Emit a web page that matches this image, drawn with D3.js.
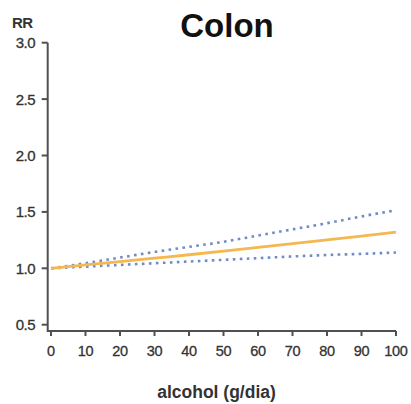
<!DOCTYPE html>
<html><head><meta charset="utf-8">
<script src="https://cdn.jsdelivr.net/npm/d3@7"></script>
<style>body{margin:0;background:#fff;}svg{display:block;font-family:"Liberation Sans",Arial,sans-serif;}</style>
</head><body>
<svg id="c" width="411" height="404"></svg>
<script>
const alcohol = [0,10,20,30,40,50,60,70,80,90,100];
const rr      = [1.00,1.03,1.06,1.09,1.12,1.152,1.185,1.218,1.252,1.286,1.32];
const upper   = [1.00,1.045,1.095,1.145,1.19,1.235,1.29,1.345,1.40,1.46,1.515];
const lower   = [1.00,1.015,1.03,1.045,1.06,1.075,1.09,1.105,1.118,1.128,1.14];
const xTicks = [0,10,20,30,40,50,60,70,80,90,100];
const yTicks = [0.5,1.0,1.5,2.0,2.5,3.0];

const svg = d3.select("#c");
const x = d3.scaleLinear().domain([0,100]).range([51,396]);
const y = d3.scaleLinear().domain([1,3]).range([268.3,42.7]);
const axisY = 331, axisX = 47.7;
const axisCol = "#505050";

svg.append("path").attr("d",`M${axisX},${y(3)}V${axisY}H${x(100)}`)
  .attr("fill","none").attr("stroke",axisCol).attr("stroke-width",2);

const yg = svg.append("g");
yTicks.forEach(t=>{
  yg.append("line").attr("x1",axisX-6).attr("x2",axisX).attr("y1",y(t)).attr("y2",y(t))
    .attr("stroke",axisCol).attr("stroke-width",2);
  yg.append("text").attr("x",35).attr("y",y(t)).attr("dy","0.36em").attr("text-anchor","end")
    .attr("font-size",15).attr("fill","#333").attr("stroke","#333").attr("stroke-width",0.3)
    .attr("letter-spacing",-0.5).text(d3.format(".1f")(t));
});
const xg = svg.append("g");
xTicks.forEach(t=>{
  xg.append("line").attr("x1",x(t)).attr("x2",x(t)).attr("y1",axisY).attr("y2",axisY+5)
    .attr("stroke",axisCol).attr("stroke-width",2);
  xg.append("text").attr("x",x(t)).attr("y",356).attr("text-anchor","middle")
    .attr("font-size",14.5).attr("fill","#333").attr("stroke","#333").attr("stroke-width",0.3)
    .attr("letter-spacing",-0.3).text(t);
});

svg.append("text").attr("x",227).attr("y",37).attr("text-anchor","middle")
  .attr("font-size",33).attr("font-weight","bold").attr("fill","#111").text("Colon");
svg.append("text").attr("x",12).attr("y",28)
  .attr("font-size",15).attr("font-weight","bold").attr("fill","#333").attr("letter-spacing",-0.5).text("RR");
svg.append("text").attr("x",216.5).attr("y",398).attr("text-anchor","middle")
  .attr("font-size",17.5).attr("font-weight","bold").attr("fill","#333").text("alcohol (g/dia)");

const line = vals => d3.line().x((d,i)=>x(alcohol[i])).y(d=>y(d)).curve(d3.curveMonotoneX)(vals);
svg.append("path").attr("d",line(upper)).attr("fill","none").attr("stroke","#6f8cc9")
  .attr("stroke-width",2.6).attr("stroke-dasharray","2.6 4.4");
svg.append("path").attr("d",line(lower)).attr("fill","none").attr("stroke","#6f8cc9")
  .attr("stroke-width",2.6).attr("stroke-dasharray","2.6 4.4");
svg.append("path").attr("d",line(rr)).attr("fill","none").attr("stroke","#f5b74f")
  .attr("stroke-width",2.8);
</script>
</body></html>
